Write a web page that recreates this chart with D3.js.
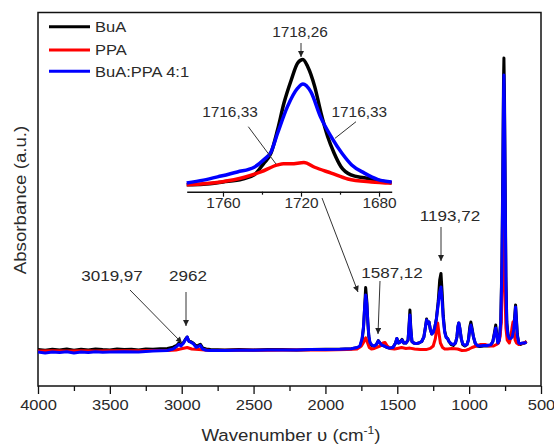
<!DOCTYPE html>
<html><head><meta charset="utf-8">
<script src="https://cdn.jsdelivr.net/npm/d3@7"></script>
<style>body{margin:0;background:#fff}svg{display:block}</style>
</head><body><svg id="c" width="554" height="445"></svg>
<script>
const seriesNames = ["BuA", "PPA", "BuA:PPA 4:1"];
const seriesColors = ["#000000", "#ff0000", "#0000ff"];
const xTicks = [4000, 3500, 3000, 2500, 2000, 1500, 1000, 500];
const xMinorTicks = [3750, 3250, 2750, 2250, 1750, 1250, 750];
const insetTicks = [1760, 1720, 1680];
const insetMinorTicks = [1740, 1700];
const xTitle = "Wavenumber \u03C5 (cm";
const yTitle = "Absorbance (a.u.)";
const peakLabels = ["3019,97", "2962", "1587,12", "1193,72"];
const insetLabels = ["1718,26", "1716,33", "1716,33"];

// main spectra: [wavenumber, absorbance]
const buaSpectrum = [[4000,0.008],[3950,0.006],[3900,0.009],[3850,0.007],[3800,0.01],[3750,0.006],[3700,0.009],[3650,0.007],[3600,0.01],[3550,0.008],[3500,0.007],[3450,0.01],[3400,0.008],[3350,0.009],[3300,0.007],[3250,0.01],[3200,0.009],[3150,0.011],[3100,0.012],[3060,0.016],[3035,0.022],[3020,0.03],[3005,0.024],[2990,0.03],[2975,0.042],[2962,0.05],[2950,0.036],[2935,0.034],[2920,0.03],[2900,0.02],[2885,0.022],[2870,0.026],[2855,0.014],[2830,0.01],[2800,0.008],[2700,0.007],[2600,0.008],[2500,0.007],[2400,0.008],[2300,0.008],[2200,0.007],[2100,0.008],[2000,0.009],[1900,0.009],[1820,0.011],[1780,0.014],[1760,0.018],[1745,0.04],[1735,0.08],[1727,0.15],[1720,0.215],[1712,0.17],[1705,0.1],[1698,0.05],[1690,0.03],[1675,0.02],[1660,0.02],[1645,0.025],[1632,0.038],[1620,0.03],[1605,0.022],[1590,0.02],[1575,0.016],[1555,0.013],[1530,0.015],[1512,0.03],[1503,0.045],[1492,0.03],[1478,0.035],[1467,0.042],[1455,0.03],[1440,0.03],[1425,0.04],[1418,0.09],[1412,0.14],[1406,0.08],[1398,0.035],[1385,0.03],[1370,0.028],[1350,0.03],[1330,0.035],[1315,0.05],[1305,0.08],[1296,0.11],[1288,0.095],[1279,0.1],[1270,0.075],[1260,0.06],[1250,0.065],[1240,0.08],[1228,0.11],[1215,0.17],[1205,0.24],[1196,0.262],[1188,0.2],[1180,0.12],[1170,0.07],[1160,0.05],[1150,0.045],[1140,0.035],[1125,0.025],[1110,0.022],[1095,0.03],[1085,0.05],[1078,0.085],[1072,0.097],[1065,0.08],[1055,0.045],[1045,0.025],[1030,0.02],[1015,0.025],[1005,0.04],[995,0.085],[988,0.1],[980,0.08],[970,0.05],[958,0.03],[945,0.02],[925,0.018],[900,0.02],[875,0.02],[850,0.022],[835,0.035],[822,0.07],[815,0.09],[808,0.06],[800,0.03],[790,0.04],[780,0.1],[772,0.3],[766,0.6],[761,0.9],[758,0.98],[754,0.85],[749,0.55],[744,0.25],[738,0.1],[730,0.06],[720,0.045],[710,0.05],[700,0.055],[690,0.08],[683,0.12],[677,0.157],[672,0.12],[665,0.06],[655,0.03],[645,0.025],[630,0.028],[615,0.03],[600,0.035]];
const ppaSpectrum = [[4000,0.003],[3900,0.004],[3800,0.003],[3700,0.004],[3600,0.003],[3500,0.004],[3400,0.004],[3300,0.004],[3200,0.005],[3100,0.005],[3040,0.007],[3010,0.01],[2962,0.015],[2930,0.01],[2880,0.008],[2800,0.005],[2600,0.006],[2400,0.006],[2200,0.007],[2000,0.007],[1850,0.008],[1780,0.01],[1750,0.02],[1735,0.032],[1720,0.047],[1708,0.032],[1695,0.015],[1680,0.01],[1660,0.012],[1620,0.02],[1600,0.03],[1585,0.032],[1570,0.02],[1550,0.012],[1520,0.01],[1500,0.012],[1470,0.015],[1440,0.012],[1412,0.013],[1380,0.01],[1340,0.008],[1300,0.008],[1270,0.012],[1250,0.02],[1235,0.045],[1225,0.08],[1219,0.097],[1212,0.07],[1200,0.03],[1185,0.015],[1170,0.01],[1150,0.01],[1120,0.012],[1080,0.01],[1050,0.005],[1020,0.006],[1000,0.01],[980,0.015],[950,0.02],[920,0.025],[890,0.025],[860,0.02],[830,0.02],[810,0.025],[795,0.03],[785,0.05],[776,0.1],[770,0.25],[766,0.45],[762,0.517],[757,0.4],[751,0.2],[744,0.08],[735,0.04],[720,0.03],[710,0.05],[702,0.08],[695,0.1],[688,0.07],[680,0.04],[670,0.03],[655,0.025],[640,0.028],[620,0.03],[600,0.035]];
const blendSpectrum = [[4000,0.0],[3950,-0.003],[3900,0.0],[3850,-0.002],[3800,0.001],[3750,-0.003],[3700,0.0],[3650,-0.002],[3600,0.001],[3550,-0.001],[3500,0.0],[3400,0.001],[3300,0.0],[3200,0.003],[3100,0.005],[3060,0.01],[3035,0.018],[3020,0.026],[3005,0.02],[2990,0.028],[2975,0.04],[2962,0.05],[2950,0.036],[2935,0.032],[2920,0.028],[2900,0.016],[2885,0.018],[2870,0.022],[2855,0.01],[2830,0.006],[2800,0.005],[2700,0.005],[2600,0.006],[2500,0.006],[2400,0.007],[2300,0.007],[2200,0.007],[2100,0.008],[2000,0.008],[1900,0.009],[1820,0.011],[1780,0.015],[1760,0.02],[1745,0.045],[1735,0.085],[1727,0.15],[1720,0.19],[1712,0.16],[1705,0.1],[1698,0.055],[1690,0.032],[1675,0.022],[1660,0.02],[1645,0.025],[1632,0.037],[1620,0.03],[1605,0.022],[1590,0.02],[1575,0.016],[1555,0.013],[1530,0.015],[1512,0.03],[1503,0.045],[1492,0.03],[1478,0.033],[1467,0.04],[1455,0.03],[1440,0.03],[1425,0.04],[1418,0.085],[1412,0.123],[1406,0.075],[1398,0.035],[1385,0.03],[1370,0.028],[1350,0.03],[1330,0.035],[1315,0.05],[1305,0.08],[1296,0.107],[1288,0.095],[1279,0.1],[1270,0.075],[1260,0.06],[1250,0.065],[1240,0.08],[1228,0.11],[1215,0.16],[1205,0.2],[1196,0.217],[1188,0.17],[1180,0.11],[1170,0.065],[1160,0.048],[1150,0.045],[1140,0.035],[1125,0.028],[1110,0.025],[1095,0.03],[1085,0.05],[1078,0.085],[1072,0.097],[1065,0.08],[1055,0.045],[1045,0.028],[1030,0.022],[1015,0.025],[1005,0.04],[995,0.075],[988,0.09],[980,0.075],[970,0.05],[958,0.03],[945,0.022],[925,0.02],[900,0.022],[875,0.022],[850,0.024],[835,0.035],[822,0.065],[815,0.08],[808,0.055],[800,0.03],[790,0.04],[780,0.1],[772,0.28],[766,0.55],[761,0.85],[758,0.923],[754,0.8],[749,0.5],[744,0.22],[738,0.09],[730,0.055],[720,0.045],[710,0.045],[700,0.05],[690,0.075],[683,0.11],[677,0.15],[672,0.11],[665,0.055],[655,0.03],[645,0.028],[630,0.03],[615,0.03],[600,0.032]];

// inset (carbonyl band)
const insetBuA = [[1778.6,0.002],[1770,0.003],[1760,0.007],[1750,0.012],[1744,0.019],[1739,0.039],[1735.4,0.056],[1732,0.096],[1728.7,0.142],[1725,0.181],[1721.7,0.21],[1719,0.216],[1716.6,0.204],[1713,0.17],[1709.7,0.124],[1706.3,0.084],[1703,0.056],[1699.5,0.033],[1694.4,0.019],[1687.7,0.014],[1680.7,0.01],[1673.5,0.005]];
const insetPPA = [[1778.6,0.002],[1761,0.007],[1749,0.015],[1740.6,0.024],[1732,0.036],[1729,0.038],[1725,0.038],[1718.5,0.04],[1713,0.032],[1704.5,0.022],[1696,0.012],[1684,0.007],[1673.5,0.005]];
const insetBlend = [[1778.6,0.005],[1770,0.01],[1761,0.017],[1752.6,0.024],[1744,0.032],[1739,0.045],[1735.4,0.058],[1732,0.09],[1727,0.135],[1721.7,0.167],[1719,0.174],[1715,0.161],[1710,0.118],[1704.5,0.084],[1699,0.056],[1694,0.036],[1687.5,0.022],[1680.5,0.011],[1673.5,0.007]];

const FONT = "'Liberation Sans', Arial, sans-serif";
const TXT = "#2a2a2a";
const SX = 1.1;
const svg = d3.select("#c");
const M = {left: 38, right: 541, top: 12.5, bottom: 386};
const x = d3.scaleLinear().domain([4000, 500]).range([M.left, M.right]);
const y = d3.scaleLinear().domain([-0.1133, 1.1317]).range([M.bottom, M.top]);

const defs = svg.append("defs");
defs.append("marker").attr("id", "ah").attr("viewBox", "0 0 10 10")
  .attr("refX", 10).attr("refY", 5).attr("markerWidth", 7).attr("markerHeight", 6)
  .attr("markerUnits", "userSpaceOnUse").attr("orient", "auto")
  .append("path").attr("d", "M0,0 L10,5 L0,10 z").attr("fill", "#222");

function label(g, px, py, s, size, anchor, rot) {
  return g.append("text")
    .attr("transform", `translate(${px},${py})${rot ? ` rotate(${rot})` : ""} scale(${SX},1)`)
    .attr("font-size", size).attr("font-family", FONT).attr("fill", TXT)
    .attr("text-anchor", anchor || "middle").text(s);
}

// x axis
const ax = svg.append("g").attr("transform", `translate(0,${M.bottom})`)
  .call(d3.axisBottom(x).tickValues(xTicks).tickSize(8).tickSizeOuter(0).tickFormat(d3.format("d")));
ax.select(".domain").remove();
ax.selectAll(".tick line").attr("stroke", "#111").attr("stroke-width", 1.3);
ax.selectAll(".tick text").attr("dy", null).attr("y", 24).attr("font-size", 15)
  .attr("font-family", FONT).attr("fill", TXT).attr("transform", `scale(${SX},1)`);
const axm = svg.append("g").attr("transform", `translate(0,${M.bottom})`)
  .call(d3.axisBottom(x).tickValues(xMinorTicks).tickSize(5).tickSizeOuter(0).tickFormat(""));
axm.select(".domain").remove();
axm.selectAll(".tick line").attr("stroke", "#111").attr("stroke-width", 1.3);

// frame
svg.append("rect").attr("x", M.left).attr("y", M.top)
  .attr("width", M.right - M.left).attr("height", M.bottom - M.top)
  .attr("fill", "none").attr("stroke", "#111").attr("stroke-width", 1.5);

// titles
const xt = label(svg, 291, 441, xTitle, 17, "middle");
xt.append("tspan").attr("font-size", 11).attr("dy", -7).text("-1");
xt.append("tspan").attr("dy", 7).text(")");
label(svg, 25.5, 200, yTitle, 17, "middle", -90);

// main spectra
const line = d3.line().x(d => x(d[0])).y(d => y(d[1]));
[buaSpectrum, ppaSpectrum, blendSpectrum].forEach((s, i) => {
  svg.append("path").datum(s).attr("d", line).attr("fill", "none")
    .attr("stroke", seriesColors[i]).attr("stroke-width", 3).attr("stroke-linejoin", "round");
});

// legend
seriesNames.forEach((n, i) => {
  const ly = [26.7, 50, 71.2][i];
  svg.append("line").attr("x1", 49).attr("x2", 90).attr("y1", ly).attr("y2", ly)
    .attr("stroke", seriesColors[i]).attr("stroke-width", 3);
  label(svg, 95, ly + 5.4, n, 15, "start");
});

// inset
const xi = d3.scaleLinear().domain([1778.6, 1673.5]).range([186.7, 391.7]);
const yi = d3.scaleLinear().domain([0, 0.22]).range([186, 57.1]);
const insetY = 191.7;
const ia = svg.append("g").attr("transform", `translate(0,${insetY})`)
  .call(d3.axisBottom(xi).tickValues(insetTicks).tickSize(5).tickSizeOuter(0).tickFormat(d3.format("d")));
ia.select(".domain").attr("stroke", "#111").attr("stroke-width", 1.5);
ia.selectAll(".tick line").attr("stroke", "#111").attr("stroke-width", 1.2);
ia.selectAll(".tick text").attr("dy", null).attr("y", 16).attr("font-size", 14)
  .attr("font-family", FONT).attr("fill", TXT).attr("transform", `scale(${SX},1)`);
const iam = svg.append("g").attr("transform", `translate(0,${insetY})`)
  .call(d3.axisBottom(xi).tickValues(insetMinorTicks).tickSize(3).tickSizeOuter(0).tickFormat(""));
iam.select(".domain").remove();
iam.selectAll(".tick line").attr("stroke", "#111").attr("stroke-width", 1.2);

const lineI = d3.line().x(d => xi(d[0])).y(d => yi(d[1])).curve(d3.curveMonotoneX);
[insetBuA, insetPPA, insetBlend].forEach((s, i) => {
  svg.append("path").datum(s).attr("d", lineI).attr("fill", "none")
    .attr("stroke", seriesColors[i]).attr("stroke-width", 3.5).attr("stroke-linejoin", "round");
});

// annotations
function arrow(x1, y1, x2, y2, head) {
  const l = svg.append("line").attr("x1", x1).attr("y1", y1).attr("x2", x2).attr("y2", y2)
    .attr("stroke", "#333").attr("stroke-width", 1);
  if (head) l.attr("marker-end", "url(#ah)");
}
label(svg, 112, 280.5, peakLabels[0], 15.5);
arrow(130, 290, 182, 343, true);
label(svg, 188, 280.5, peakLabels[1], 15.5);
arrow(186, 292, 186, 326, true);
label(svg, 392, 277.5, peakLabels[2], 15.5);
arrow(380, 281, 378, 334, true);
label(svg, 450, 220.5, peakLabels[3], 15.5);
arrow(441, 227, 441, 261, true);
arrow(322, 198, 358, 292, true);

label(svg, 300, 36.8, insetLabels[0], 14);
arrow(301, 43, 301, 57, true);
label(svg, 230, 116.8, insetLabels[1], 14);
arrow(248.3, 126.7, 276, 164, false);
label(svg, 359.3, 116.8, insetLabels[2], 14);
arrow(356, 121.7, 335, 138.3, false);
</script></body></html>
